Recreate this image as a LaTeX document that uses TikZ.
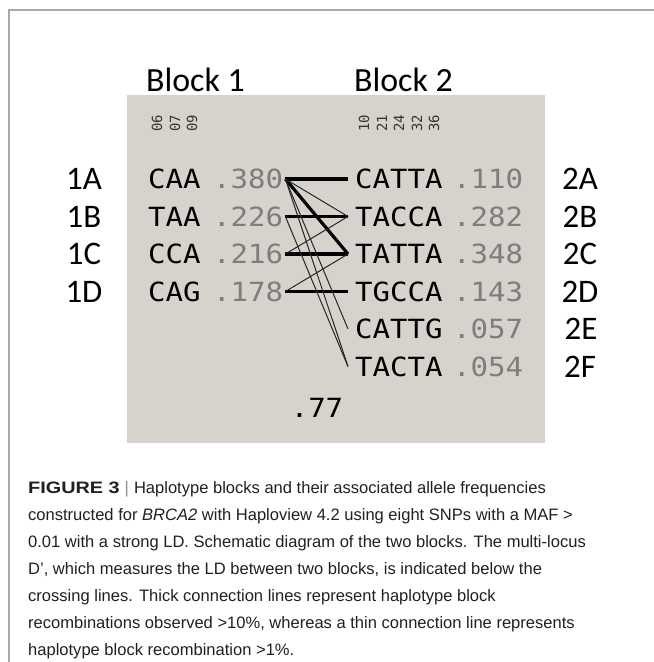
\documentclass[tikz,border=0pt]{standalone}
\usepackage{fontspec}
\setmainfont{Liberation Sans}
\newfontfamily\calib{Carlito}
\newfontfamily\hmono{DejaVu Sans Mono}
\definecolor{boxgray}{RGB}{214,211,205}
\definecolor{numgray}{RGB}{125,125,125}
\definecolor{framegray}{RGB}{168,168,168}
\definecolor{captext}{RGB}{35,31,32}
\begin{document}
\begin{tikzpicture}[x=1bp,y=-1bp,
  lab/.style={font=\calib\fontsize{33}{33}\selectfont, inner sep=0},
  title/.style={font=\calib\fontsize{34}{34}\selectfont, inner sep=0, anchor=west},
  hap/.style={font=\hmono\fontsize{26.5}{26.5}\selectfont, inner sep=0, text height=19.3bp, text depth=0pt, xscale=1.1, anchor=west},
  freq/.style={hap, text=numgray},
  mk/.style={font=\hmono\fontsize{14}{14}\selectfont, inner sep=0, rotate=90, text=black!80},
  thick link/.style={line width=3.2bp},
  thin link/.style={line width=1bp, black!85},
  capline/.style={font=\fontsize{16.6}{16.6}\selectfont, text=captext, inner sep=0, anchor=base west}]
\useasboundingbox (0,0) rectangle (654,662);
\fill[white] (0,0) rectangle (654,662);
% frame
\draw[framegray, line width=1.5bp] (9,662) -- (9,10) -- (654,10);
% grey box
\fill[boxgray] (127,95) rectangle (545,443);
% block titles
\node[title] (b1) at (146,80) {Block 1};
\node[title] (b2) at (354,80) {Block 2};
% marker numbers
\node[mk] (m06) at (157,123) {06};
\node[mk] (m07) at (175,123) {07};
\node[mk] (m09) at (192,123) {09};
\node[mk] (m10) at (364,123) {10};
\node[mk] (m21) at (382,123) {21};
\node[mk] (m24) at (399,123) {24};
\node[mk] (m32) at (417,123) {32};
\node[mk] (m36) at (434,123) {36};
% block 1 haplotypes
\node[hap] (h1a) at (148,179) {CAA};
\node[hap] (h1b) at (148,216.5) {TAA};
\node[hap] (h1c) at (148,254) {CCA};
\node[hap] (h1d) at (148,291.5) {CAG};
\node[freq] (f1a) at (213,179) {.380};
\node[freq] (f1b) at (213,216.5) {.226};
\node[freq] (f1c) at (213,254) {.216};
\node[freq] (f1d) at (213,291.5) {.178};
% block 2 haplotypes
\node[hap] (h2a) at (355,179) {CATTA};
\node[hap] (h2b) at (355,216.5) {TACCA};
\node[hap] (h2c) at (355,254) {TATTA};
\node[hap] (h2d) at (355,291.5) {TGCCA};
\node[hap] (h2e) at (355,329) {CATTG};
\node[hap] (h2f) at (355,366.5) {TACTA};
\node[freq] (f2a) at (453,179) {.110};
\node[freq] (f2b) at (453,216.5) {.282};
\node[freq] (f2c) at (453,254) {.348};
\node[freq] (f2d) at (453,291.5) {.143};
\node[freq] (f2e) at (453,329) {.057};
\node[freq] (f2f) at (453,366.5) {.054};
% multi-locus D'
\node[hap, anchor=center] (dp) at (317,408) {.77};
% side labels
\node[lab] (l1a) at (84,179) {1A};
\node[lab] (l1b) at (84,216.5) {1B};
\node[lab] (l1c) at (84,254) {1C};
\node[lab] (l1d) at (84,291.5) {1D};
\node[lab] (l2a) at (580,179) {2A};
\node[lab] (l2b) at (580,216.5) {2B};
\node[lab] (l2c) at (580,254) {2C};
\node[lab] (l2d) at (580,291.5) {2D};
\node[lab] (l2e) at (581,329) {2E};
\node[lab] (l2f) at (580,366.5) {2F};
% connection lines
\draw[thick link] ([xshift=2bp]f1a.east) -- ([xshift=-7bp]h2a.west);
\draw[thick link] ([xshift=2bp]f1b.east) -- ([xshift=-7bp]h2b.west);
\draw[thick link] ([xshift=2bp]f1c.east) -- ([xshift=-7bp]h2c.west);
\draw[thick link] ([xshift=2bp]f1d.east) -- ([xshift=-7bp]h2d.west);
\draw[thick link] ([xshift=2bp]f1a.east) -- ([xshift=-7bp]h2c.west);
\draw[thin link] ([xshift=2bp]f1a.east) -- ([xshift=-7bp]h2b.west);
\draw[thin link] ([xshift=2bp]f1c.east) -- ([xshift=-7bp]h2b.west);
\draw[thin link] ([xshift=2bp]f1d.east) -- ([xshift=-7bp]h2c.west);
\draw[thin link] ([xshift=2bp]f1a.east) -- ([xshift=-7bp]h2e.west);
\draw[thin link] ([xshift=2bp]f1a.east) -- ([xshift=-7bp]h2f.west);
\draw[thin link] ([xshift=2bp]f1b.east) -- ([xshift=-7bp]h2f.west);
% caption
\node[capline] (c1) at (28,493) {\textbf{\scalebox{1.2}[1]{FIGURE 3}}\hspace{5bp}{\color{black!45}|}\hspace{5bp}Haplotype blocks and their associated allele frequencies};
\node[capline] (c2) at (28,520) {constructed for \textit{BRCA2} with Haploview 4.2 using eight SNPs with a MAF >};
\node[capline] (c3) at (28,547) {0.01 with a strong LD. Schematic diagram of the two blocks. The multi-locus};
\node[capline] (c4) at (28,574) {D’, which measures the LD between two blocks, is indicated below the};
\node[capline] (c5) at (28,601) {crossing lines. Thick connection lines represent haplotype block};
\node[capline] (c6) at (28,628) {recombinations observed >10\%, whereas a thin connection line represents};
\node[capline] (c7) at (28,655) {haplotype block recombination >1\%.};
\end{tikzpicture}
\end{document}
